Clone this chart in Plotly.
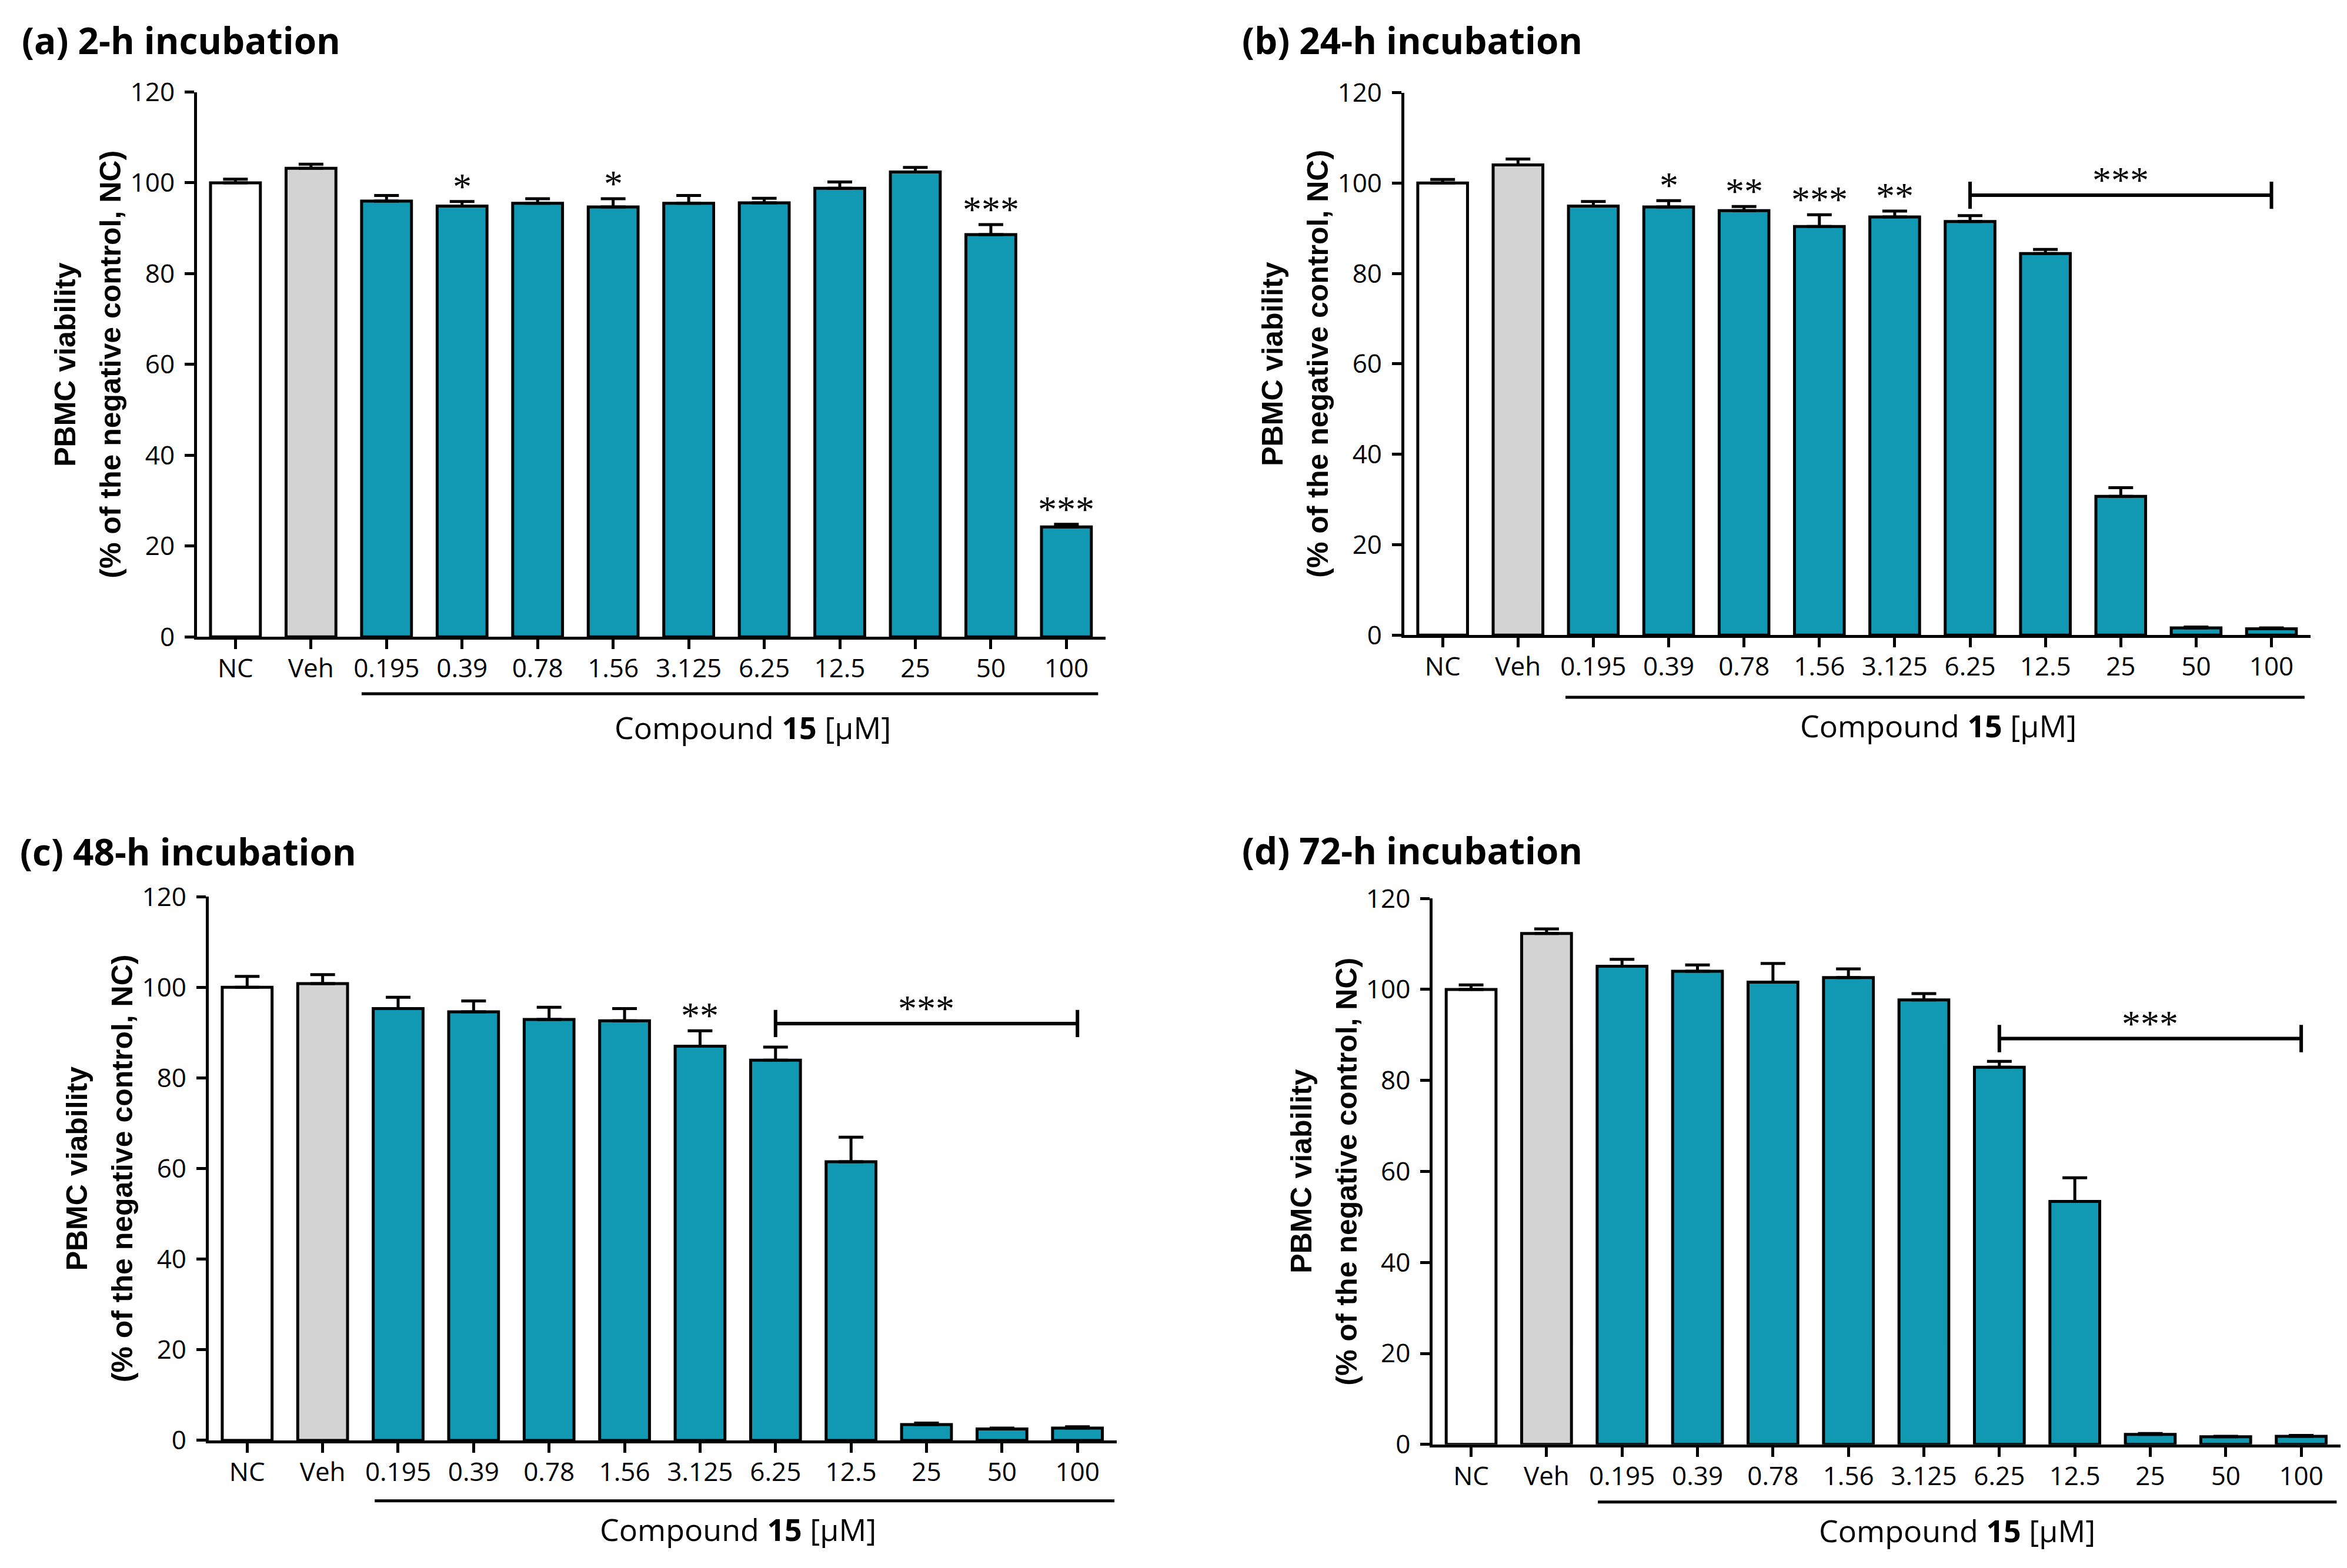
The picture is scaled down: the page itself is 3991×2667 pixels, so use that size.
import plotly.graph_objects as go

# ---------------- data ----------------
categories = ["NC", "Veh", "0.195", "0.39", "0.78", "1.56", "3.125", "6.25", "12.5", "25", "50", "100"]
y_ticks = [0, 20, 40, 60, 80, 100, 120]

mean_2h = [100.0, 103.2, 96.0, 94.9, 95.5, 94.7, 95.5, 95.6, 98.8, 102.4, 88.6, 24.2]
sem_2h = [0.8, 0.9, 1.2, 1.0, 1.0, 1.8, 1.7, 1.0, 1.4, 1.0, 2.2, 0.6]
sig_2h = {"0.39": "*", "1.56": "*", "50": "***", "100": "***"}
bracket_2h = None

mean_24h = [100.0, 104.0, 94.9, 94.7, 93.9, 90.4, 92.5, 91.5, 84.4, 30.7, 1.6, 1.4]
sem_24h = [0.8, 1.3, 1.0, 1.4, 0.9, 2.6, 1.3, 1.3, 0.9, 1.9, 0.2, 0.2]
sig_24h = {"0.39": "*", "0.78": "**", "1.56": "***", "3.125": "**"}
bracket_24h = ("6.25", "100", 97.3, "***")

mean_48h = [100.0, 100.8, 95.3, 94.6, 92.9, 92.6, 87.0, 83.9, 61.5, 3.5, 2.5, 2.7]
sem_48h = [2.4, 2.0, 2.5, 2.4, 2.7, 2.7, 3.4, 2.9, 5.4, 0.3, 0.2, 0.3]
sig_48h = {"3.125": "**"}
bracket_48h = ("6.25", "100", 92.0, "***")

mean_72h = [100.0, 112.3, 105.1, 104.0, 101.6, 102.6, 97.7, 82.9, 53.4, 2.2, 1.7, 1.8]
sem_72h = [1.0, 1.0, 1.5, 1.4, 4.1, 1.9, 1.4, 1.3, 5.2, 0.2, 0.1, 0.2]
sig_72h = {}
bracket_72h = ("6.25", "100", 89.2, "***")

titles = ["(a) 2-h incubation", "(b) 24-h incubation", "(c) 48-h incubation", "(d) 72-h incubation"]
ytitle_1 = "PBMC viability"
ytitle_2 = "(% of the negative control, NC)"
xlabel = "Compound <b>15</b> [µM]"

# ---------------- style ----------------
W, H = 3991, 2667
TEAL = "#1199B4"
GREY = "#D3D3D3"
bar_colors = ["#FFFFFF", GREY] + [TEAL] * 10
TICK_FONT = dict(family="Open Sans", size=44, color="black")
TITLE_FONT = dict(family="Open Sans", size=62, color="black")
YT_FONT = dict(family="Liberation Sans", size=50, color="black")
STAR_FONT = dict(family="Liberation Serif", size=64, color="black")
LABEL_FONT = dict(family="Open Sans", size=52, color="black")


def vy(px_from_top):
    """vertical layout position (px from top) -> paper fraction"""
    y = 1.0205 * px_from_top - 41.0
    return 1 - y / H


# panel geometry: x in paper fraction, vertical positions in px from top
panels = [
    dict(mean=mean_2h, sem=sem_2h, sig=sig_2h, br=bracket_2h, title=titles[0],
         xd=[0.0819, 0.4691], top=157, zero=1086, tx=0.0067, ty=68,
         ul=(1.67, 11.42, 1183), lab=(6.85, 1240)),
    dict(mean=mean_24h, sem=sem_24h, sig=sig_24h, br=bracket_24h, title=titles[1],
         xd=[0.5963, 0.9825], top=158, zero=1083, tx=0.5267, ty=68,
         ul=(1.63, 11.44, 1189), lab=(6.58, 1237)),
    dict(mean=mean_48h, sem=sem_48h, sig=sig_48h, br=bracket_48h, title=titles[2],
         xd=[0.0869, 0.4738], top=1529, zero=2456, tx=0.0060, ty=1452,
         ul=(1.69, 11.49, 2559), lab=(6.5, 2607)),
    dict(mean=mean_72h, sem=sem_72h, sig=sig_72h, br=bracket_72h, title=titles[3],
         xd=[0.6084, 0.9952], top=1532, zero=2463, tx=0.5267, ty=1450,
         ul=(1.68, 11.47, 2561), lab=(6.44, 2609)),
]

fig = go.Figure()
annotations = []
shapes = []

for i, p in enumerate(panels):
    k = "" if i == 0 else str(i + 1)
    xa, ya = "x" + k, "y" + k
    yd = [vy(p["zero"]), vy(p["top"])]
    fig.add_trace(go.Bar(
        x=categories, y=p["mean"], xaxis=xa, yaxis=ya, width=0.66,
        marker=dict(color=bar_colors, line=dict(color="black", width=5)),
        error_y=dict(type="data", array=p["sem"], arrayminus=[0] * len(p["sem"]),
                     symmetric=False, color="black", thickness=5, width=21),
        showlegend=False, hoverinfo="skip",
    ))
    fig.update_layout(**{
        "xaxis" + k: dict(domain=p["xd"], anchor=ya, type="category",
                          range=[-0.51, 11.52], showline=True, linewidth=5, linecolor="black",
                          ticks="outside", ticklen=16, tickwidth=5, tickcolor="black",
                          tickfont=TICK_FONT, tickangle=0, ticklabelstandoff=-5,
                          showgrid=False, zeroline=False),
        "yaxis" + k: dict(domain=yd, anchor=xa, range=[0, 120], tickvals=y_ticks,
                          showline=True, linewidth=5, linecolor="black",
                          ticks="outside", ticklen=16, tickwidth=5, tickcolor="black",
                          tickfont=TICK_FONT, ticklabelstandoff=8,
                          showgrid=False, zeroline=False),
    })
    annotations.append(dict(text="<b>" + p["title"] + "</b>", x=p["tx"], y=vy(p["ty"]),
                            xref="paper", yref="paper", xanchor="left", yanchor="middle",
                            showarrow=False, font=TITLE_FONT))
    ax_px = p["xd"][0] * W
    ymid = (yd[0] + yd[1]) / 2
    annotations.append(dict(text="<b>" + ytitle_1 + "</b>", x=(ax_px - 224) / W, y=ymid,
                            xref="paper", yref="paper", textangle=-90, showarrow=False,
                            xanchor="center", yanchor="middle", font=YT_FONT))
    annotations.append(dict(text="<b>" + ytitle_2 + "</b>", x=(ax_px - 147) / W, y=ymid,
                            xref="paper", yref="paper", textangle=-90, showarrow=False,
                            xanchor="center", yanchor="middle", font=YT_FONT))
    x0, x1, yl = p["ul"]
    shapes.append(dict(type="line", xref=xa, yref="paper", x0=x0, x1=x1, y0=vy(yl), y1=vy(yl),
                       line=dict(color="black", width=5)))
    annotations.append(dict(text=xlabel, x=p["lab"][0], y=vy(p["lab"][1]), xref=xa, yref="paper",
                            xanchor="center", yanchor="middle", showarrow=False, font=LABEL_FONT))
    for cat, stars in p["sig"].items():
        j = categories.index(cat)
        annotations.append(dict(text=stars, x=j, y=p["mean"][j] + p["sem"][j],
                                xref=xa, yref=ya, xanchor="center", yanchor="bottom",
                                yshift=-12, showarrow=False, font=STAR_FONT))
    if p["br"] is not None:
        c0, c1, yb, stars = p["br"]
        j0, j1 = categories.index(c0), categories.index(c1)
        shapes.append(dict(type="line", xref=xa, yref=ya, x0=j0, x1=j1, y0=yb, y1=yb,
                           line=dict(color="black", width=6)))
        for jj in (j0, j1):
            shapes.append(dict(type="line", xref=xa, yref=ya, x0=jj, x1=jj, y0=yb - 3, y1=yb + 3,
                               line=dict(color="black", width=6)))
        annotations.append(dict(text=stars, x=(j0 + j1) / 2, y=yb, xref=xa, yref=ya,
                                xanchor="center", yanchor="bottom", yshift=-12,
                                showarrow=False, font=STAR_FONT))

fig.update_layout(
    width=W, height=H, margin=dict(l=0, r=0, t=0, b=0),
    paper_bgcolor="white", plot_bgcolor="white",
    annotations=annotations, shapes=shapes,
)

fig.write_html("out.html")
